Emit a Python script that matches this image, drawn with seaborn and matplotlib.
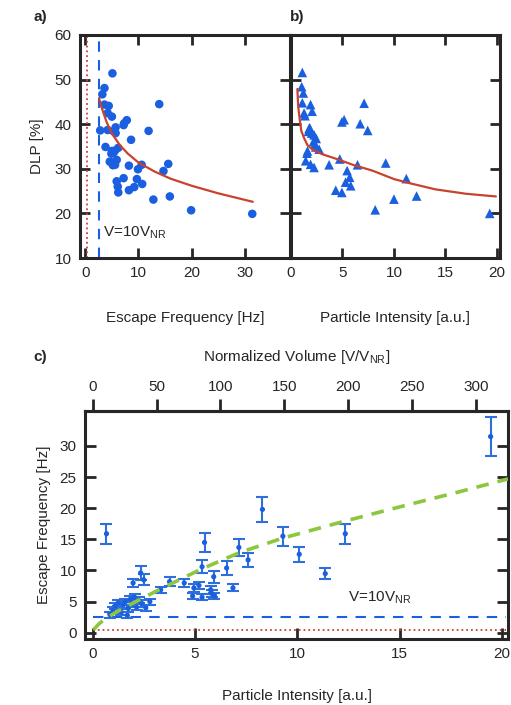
import matplotlib
matplotlib.use("Agg")
import matplotlib.pyplot as plt
import seaborn as sns
import pandas as pd

# ---- data ----
# panel a: escape frequency vs DLP
a_freq = [5.1, 3.6, 3.2, 3.6, 4.4, 4.2, 5.0, 2.8, 4.2, 5.7, 5.7, 5.3, 7.3, 7.8, 7.2,
          3.8, 6.2, 5.0, 5.6, 4.9, 5.0, 5.9, 5.6, 5.2, 8.2, 9.9, 10.6, 8.6, 11.9, 13.9,
          14.7, 15.6, 5.9, 7.2, 9.7, 10.7, 6.1, 6.2, 8.2, 9.2, 12.8, 15.9, 19.9, 31.4,
          4.6, 5.3]
a_dlp = [51.4, 48.1, 46.7, 44.4, 44.1, 42.5, 41.7, 38.6, 38.7, 39.3, 38.0, 38.4, 40.2, 40.9, 39.8,
         34.9, 34.7, 34.0, 34.1, 33.4, 31.4, 32.0, 30.9, 30.8, 30.7, 29.9, 30.9, 36.5, 38.5, 44.5,
         29.5, 31.1, 27.2, 27.9, 27.7, 26.6, 26.0, 24.7, 25.2, 25.9, 23.1, 23.8, 20.7, 19.9,
         31.6, 33.6]

# panel b: particle intensity vs DLP
b_int = [1.1, 1.04, 1.2, 1.1, 1.9, 2.05, 1.27, 1.36, 1.82, 1.7, 2.0, 2.24, 2.45, 2.4, 2.73,
         1.6, 1.43, 1.9, 2.24, 3.7, 4.74, 6.46, 9.2, 7.1, 5.16, 4.94, 6.72, 7.45, 5.45,
         5.7, 5.3, 5.8, 4.35, 4.94, 11.2, 12.2, 10.0, 8.18, 19.3, 1.75, 2.3, 2.2, 1.55]
b_dlp = [51.6, 48.4, 47.0, 44.8, 44.4, 42.9, 42.5, 41.9, 39.2, 38.4, 38.0, 37.6, 36.8, 34.9, 34.4,
         34.0, 31.8, 31.0, 30.3, 30.9, 32.2, 30.9, 31.3, 44.7, 41.0, 40.5, 40.1, 38.6, 29.6,
         28.1, 27.0, 26.2, 25.2, 24.7, 27.8, 23.9, 23.2, 20.8, 20.0, 39.0, 35.5, 36.2, 33.5]

# panel c: particle intensity vs escape frequency (+ error)
c_int = [19.45, 0.68, 8.3, 9.3, 12.35, 10.1, 11.37, 5.47, 7.15, 7.6, 6.55, 5.35, 5.92, 6.86,
         2.35, 2.5, 1.98, 3.76, 4.48, 3.33, 4.95, 5.2, 5.77, 5.83, 4.89, 5.35, 5.95, 2.8,
         0.85, 1.0, 1.1, 1.25, 1.4, 1.5, 1.6, 1.75, 1.85, 1.95, 2.05, 2.15, 2.25, 2.4, 2.6, 1.7]
c_freq = [31.5, 15.9, 19.8, 15.5, 15.9, 12.6, 9.5, 14.5, 13.7, 11.7, 10.4, 10.6, 9.0, 7.2,
          9.6, 8.5, 8.0, 8.2, 8.0, 6.9, 7.2, 7.6, 6.9, 6.3, 5.9, 5.7, 5.9, 5.0,
          2.9, 3.6, 4.3, 4.8, 3.3, 4.5, 5.0, 3.9, 5.4, 4.6, 5.7, 4.1, 5.2, 4.7, 4.0, 2.8]
c_err = [3.2, 1.6, 2.0, 1.55, 1.6, 1.2, 0.9, 1.5, 1.3, 1.1, 1.05, 1.05, 0.95, 0.55,
         1.05, 0.9, 0.6, 0.7, 0.6, 0.5, 0.6, 0.6, 0.6, 0.6, 0.5, 0.5, 0.5, 0.5,
         0.5, 0.5, 0.5, 0.5, 0.5, 0.5, 0.5, 0.5, 0.5, 0.5, 0.5, 0.5, 0.5, 0.5, 0.5, 0.5]

# fit curves
a_fit_x = [2.6, 3, 4, 5, 6.5, 8, 10, 13, 16, 20, 25, 31.5]
a_fit_y = [45.8, 44.0, 40.5, 37.9, 35.3, 33.4, 31.4, 29.4, 27.8, 26.2, 24.5, 22.6]
b_fit_x = [0.62, 0.7, 0.85, 1.0, 1.27, 1.6, 2.1, 3, 4.7, 6, 7.9, 10, 11.3, 14, 17, 19.9]
b_fit_y = [47.9, 44.0, 41.0, 38.5, 36.9, 35.3, 34.3, 33.3, 32.0, 30.9, 29.6, 27.7, 26.9, 25.4, 24.4, 23.8]
c_fit_x = [0.05, 0.3, 0.6, 1.2, 2, 3.3, 5.3, 7.2, 9.3, 12.3, 15, 18, 20.3]
c_fit_y = [0.5, 1.4, 2.2, 3.4, 4.8, 7.0, 10.2, 12.9, 15.2, 17.9, 20.2, 22.7, 24.7]

nr_level = 0.4        # V = V_NR
ten_nr_level = 2.5    # V = 10 V_NR
volume_factor = 16    # V/V_NR per intensity unit

blue = "#1a5fe0"
ebar_blue = "#2f6fdc"
red = "#c8432e"
green = "#8dc63f"

sns.set_style("ticks")
plt.rcParams['font.family'] = ['Liberation Sans', 'DejaVu Sans']
plt.rcParams['font.size'] = 11
plt.rcParams['axes.linewidth'] = 2.2

fig = plt.figure(figsize=(5.11, 7.05), dpi=100)
ax_a = fig.add_axes([80 / 511, 1 - 258 / 705, 210 / 511, 223 / 705])
ax_b = fig.add_axes([291 / 511, 1 - 258 / 705, 209 / 511, 223 / 705])
ax_c = fig.add_axes([85 / 511, 1 - 639 / 705, 423 / 511, 228 / 705])

sub = r'V=10V$_\mathregular{NR}$'

# panel a
df_a = pd.DataFrame({"freq": a_freq, "dlp": a_dlp})
ax_a.axvline(nr_level, color=red, ls=":", lw=1.3)
ax_a.axvline(ten_nr_level, color=blue, ls=(0, (5, 4)), lw=1.5)
sns.scatterplot(data=df_a, x="freq", y="dlp", ax=ax_a, color=blue, s=38,
                edgecolor="none", marker="o", zorder=3)
sns.lineplot(x=a_fit_x, y=a_fit_y, ax=ax_a, color=red, lw=1.6, sort=False,
             estimator=None, zorder=4)
ax_a.set_xlim(-1, 38.5)
ax_a.set_ylim(10, 60)
ax_a.set_xticks([0, 10, 20, 30])
ax_a.set_yticks([10, 20, 30, 40, 50, 60])
ax_a.set_xlabel("Escape Frequency [Hz]", labelpad=22)
ax_a.set_ylabel("DLP [%]", labelpad=8)
ax_a.text(3.4, 15.7, sub, fontsize=11, va="center")

# panel b
df_b = pd.DataFrame({"intensity": b_int, "dlp": b_dlp})
sns.scatterplot(data=df_b, x="intensity", y="dlp", ax=ax_b, color=blue, s=48,
                edgecolor="none", marker="^", zorder=3)
sns.lineplot(x=b_fit_x, y=b_fit_y, ax=ax_b, color=red, lw=1.6, sort=False,
             estimator=None, zorder=4)
ax_b.set_xlim(0, 20.3)
ax_b.set_ylim(10, 60)
ax_b.set_xticks([0, 5, 10, 15, 20])
ax_b.set_yticks([10, 20, 30, 40, 50, 60])
ax_b.set_yticklabels([])
ax_b.set_xlabel("Particle Intensity [a.u.]", labelpad=22)
ax_b.set_ylabel("")

for ax in (ax_a, ax_b):
    ax.tick_params(direction="in", length=7, width=2, top=True, right=True,
                   labelsize=11, pad=6)

# panel c
ax_c.hlines(nr_level, 0, 20.2, color=red, ls=":", lw=1.3)
ax_c.hlines(ten_nr_level, 0, 20.2, color=blue, ls=(0, (5, 4)), lw=1.5)
ax_c.errorbar(c_int, c_freq, yerr=c_err, fmt="none", ecolor=ebar_blue,
              elinewidth=1.5, capsize=4.5, capthick=1.5, zorder=3)
sns.scatterplot(x=c_int, y=c_freq, ax=ax_c, color=blue, s=14, edgecolor="none",
                zorder=4)
sns.lineplot(x=c_fit_x, y=c_fit_y, ax=ax_c, color=green, lw=2.6,
             ls=(0, (3.5, 2.5)), sort=False, estimator=None, zorder=5)
ax_c.set_xlim(-0.37, 20.3)
ax_c.set_ylim(-1, 35.6)
ax_c.set_xticks([0, 5, 10, 15, 20])
ax_c.set_yticks([0, 5, 10, 15, 20, 25, 30])
ax_c.tick_params(direction="in", length=8, width=2, right=True, top=False,
                 labelsize=11, pad=6)
ax_c.set_xlabel("Particle Intensity [a.u.]", labelpad=20)
ax_c.set_ylabel("Escape Frequency [Hz]", labelpad=6)
ax_c.text(12.5, 5.7, sub, fontsize=11, va="center")

sec = ax_c.secondary_xaxis("top", functions=(lambda x: x * volume_factor,
                                             lambda v: v / volume_factor))
sec.set_xticks([0, 50, 100, 150, 200, 250, 300])
sec.tick_params(direction="out", length=9, width=2, labelsize=11, pad=3)
sec.spines["top"].set_linewidth(2.2)
sec.set_xlabel(r"Normalized Volume [V/V$_\mathregular{NR}$]", labelpad=14)

# panel letters
fig.text(33 / 511, 1 - 17 / 705, "a)", fontsize=11, fontweight="bold", va="center")
fig.text(290 / 511, 1 - 17 / 705, "b)", fontsize=11, fontweight="bold", va="center")
fig.text(33 / 511, 1 - 357 / 705, "c)", fontsize=11, fontweight="bold", va="center")

fig.savefig("out.png", dpi=100)
